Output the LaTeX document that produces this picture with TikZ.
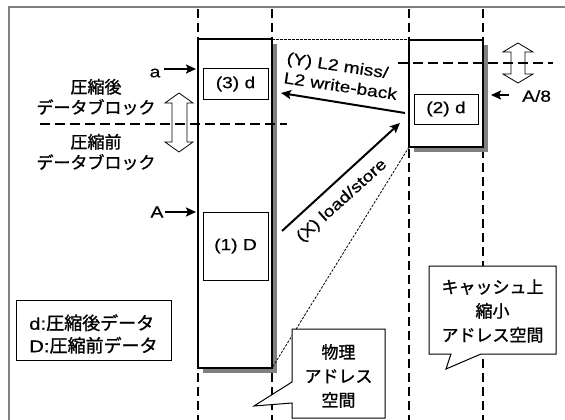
\documentclass[tikz,border=0pt]{standalone}
\usepackage{fontspec}
\setmainfont{Liberation Sans}[FakeStretch=1.2, FakeBold=0.6]
\newfontfamily\jp{Noto Sans CJK JP}[FakeBold=1.2]
\usetikzlibrary{arrows.meta}
\begin{document}
\begin{tikzpicture}[x=1pt,y=-1pt,
  every node/.style={font=\fontsize{16}{20}\selectfont, inner sep=0pt},
  vdash/.style={line width=2pt, dash pattern=on 9pt off 5pt},
  hdash/.style={line width=2pt, dash pattern=on 10pt off 5pt},
  fine/.style={line width=0.8pt, dash pattern=on 2.5pt off 1.5pt},
  col/.style={draw, line width=1.5pt, fill=white},
  shade/.style={fill=black!50, draw=none},
  ibox/.style={draw, line width=1pt, fill=white},
  arr/.style={line width=2pt, -{Stealth[length=10pt,width=9pt,inset=2pt]}},
  dbl/.style={draw, line width=0.8pt, fill=white},
  jptext/.style={font=\fontsize{17}{20.5}\selectfont\jp},
  callout/.style={draw, line width=1pt, fill=white},
  cotext/.style={align=center, font=\fontsize{17}{24}\selectfont\jp},
]
\useasboundingbox (0,0) rectangle (565,420);
\begin{scope}
\clip (0,0) rectangle (565,420);
% frame
\draw[black!50, line width=1.5pt] (9,430) -- (9,7) -- (575,7);
% vertical dashed lines
\draw[vdash] (198,9) -- (198,420);
\draw[vdash] (272,9) -- (272,420);
\draw[vdash] (409,9) -- (409,420);
\draw[vdash] (483,9) -- (483,420);
% double hollow arrows
\draw[dbl] (179,93) -- (193,103) -- (187,103) -- (187,142) -- (193,142) -- (179,152)
  -- (165,142) -- (172,142) -- (172,103) -- (165,103) -- cycle;
\draw[dbl] (518,43) -- (533,52) -- (525,52) -- (525,74) -- (533,74) -- (518,83)
  -- (503,74) -- (511,74) -- (511,52) -- (503,52) -- cycle;
% physical address column
\fill[shade] (203,44) rectangle (277,373);
\draw[col] (198,39) rectangle (272,368);
% cache column
\fill[shade] (414,45) rectangle (488,152);
\draw[col] (409,40) rectangle (483,147);
% named corners
\coordinate (pTR) at (272,39);
\coordinate (pBR) at (272,368);
\coordinate (cTL) at (409,39);
\coordinate (cBL) at (409,147);
% dotted projection lines
\draw[fine] (pTR) -- (cTL);
\draw[fine] (cBL) -- (pBR);
% horizontal dashed lines
\draw[hdash] (40,124) -- (287,124);
\draw[hdash] (398,63) -- (553,63);
% inner boxes
\node[ibox, minimum width=65pt, minimum height=30pt] (b3) at (235.5,84) {(3) d};
\node[ibox, minimum width=64pt, minimum height=30pt] (b2) at (446,109) {(2) d};
\node[ibox, minimum width=65pt, minimum height=68pt] (b1) at (235.5,246) {(1) D};
% side labels
\node[jptext, align=center] (lb1) at (96,97) {圧縮後\\データブロック};
\node[jptext, align=center] (lb2) at (96,152) {圧縮前\\データブロック};
\node (la) at (155,73) {a};
\node (lA) at (157,212) {A};
\node[anchor=west] (lA8) at (522,96) {A/8};
\coordinate (aS) at (164,69);
\coordinate (aE) at (196,69);
\coordinate (AS) at (165,212);
\coordinate (AE) at (196,212);
\coordinate (A8S) at (509,95);
\coordinate (A8E) at (491,95);
\draw[arr] (aS) -- (aE);
\draw[arr] (AS) -- (AE);
\draw[arr] (A8S) -- (A8E);
% transfer arrows
\coordinate (yS) at (405,113);
\coordinate (yE) at (281,93);
\coordinate (xS) at (282,231);
\coordinate (xE) at (400,123);
\draw[arr] (yS) -- (yE);
\draw[arr] (xS) -- (xE);
\node[rotate=-8.5, align=left] (ylab) at (342,76) {(Y) L2 miss/\\L2 write-back};
\node[rotate=42] (xlab) at (342,201) {(X) load/store};
% callouts
\draw[callout] (292,329) -- (385,329) -- (385,418) -- (292,418) -- (292,403)
  -- (254,406) -- (292,382) -- cycle;
\node[cotext] (c1) at (338.5,376) {物理\\アドレス\\空間};
\draw[callout] (429,266) -- (556,266) -- (556,354) -- (481,354) -- (446,369)
  -- (451,354) -- (429,354) -- cycle;
\node[cotext] (c2) at (492.5,311) {キャッシュ上\\縮小\\アドレス空間};
% legend
\node[draw, line width=1pt, minimum width=155pt, minimum height=60pt] (leg) at (93.5,330) {};
\node[anchor=west, align=left, font=\fontsize{17}{22.5}\selectfont] (legt) at (29,334)
  {d:{\jp\fontsize{18}{22.5}\selectfont 圧縮後データ}\\D:{\jp\fontsize{18}{22.5}\selectfont 圧縮前データ}};
\end{scope}
\end{tikzpicture}
\end{document}
